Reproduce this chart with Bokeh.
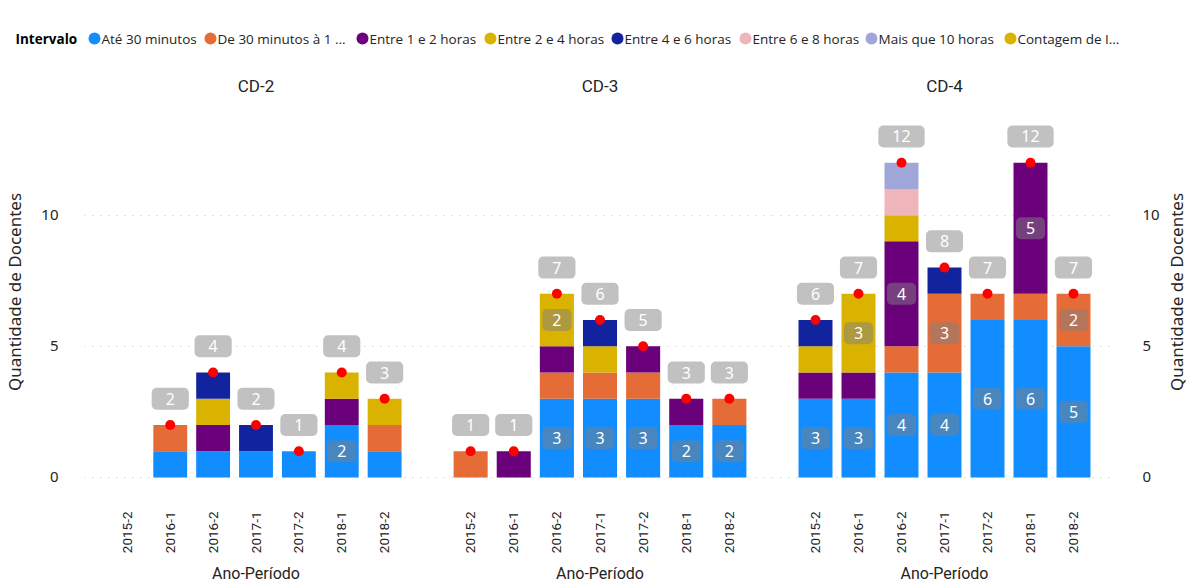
import math
from bokeh.plotting import figure
from bokeh.layouts import column, row
from bokeh.models import (ColumnDataSource, FactorRange, Range1d, FixedTicker, Label)
from bokeh.embed import file_html
from bokeh.resources import INLINE
from bokeh.core.properties import value

# ---------------- data ----------------
periods = ["2015-2", "2016-1", "2016-2", "2017-1", "2017-2", "2018-1", "2018-2"]
panel_names = ["CD-2", "CD-3", "CD-4"]
interval_names = ["Até 30 minutos", "De 30 minutos à 1 ...", "Entre 1 e 2 horas",
                  "Entre 2 e 4 horas", "Entre 4 e 6 horas", "Entre 6 e 8 horas",
                  "Mais que 10 horas"]
count_name = "Contagem de I..."
interval_colors = ["#118DFF", "#E66C37", "#6B007B", "#D9B300", "#12239E", "#EEB6BB", "#A0A7D8"]
count_color = "#D9B300"

# CD-2
cd2_ate30 = [0, 1, 1, 1, 1, 2, 1]
cd2_30a1h = [0, 1, 0, 0, 0, 0, 1]
cd2_1a2h = [0, 0, 1, 0, 0, 1, 0]
cd2_2a4h = [0, 0, 1, 0, 0, 1, 1]
cd2_4a6h = [0, 0, 1, 1, 0, 0, 0]
cd2_6a8h = [0, 0, 0, 0, 0, 0, 0]
cd2_mais10h = [0, 0, 0, 0, 0, 0, 0]
# CD-3
cd3_ate30 = [0, 0, 3, 3, 3, 2, 2]
cd3_30a1h = [1, 0, 1, 1, 1, 0, 1]
cd3_1a2h = [0, 1, 1, 0, 1, 1, 0]
cd3_2a4h = [0, 0, 2, 1, 0, 0, 0]
cd3_4a6h = [0, 0, 0, 1, 0, 0, 0]
cd3_6a8h = [0, 0, 0, 0, 0, 0, 0]
cd3_mais10h = [0, 0, 0, 0, 0, 0, 0]
# CD-4
cd4_ate30 = [3, 3, 4, 4, 6, 6, 5]
cd4_30a1h = [0, 0, 1, 3, 1, 1, 2]
cd4_1a2h = [1, 1, 4, 0, 0, 5, 0]
cd4_2a4h = [1, 3, 1, 0, 0, 0, 0]
cd4_4a6h = [1, 0, 0, 1, 0, 0, 0]
cd4_6a8h = [0, 0, 1, 0, 0, 0, 0]
cd4_mais10h = [0, 0, 1, 0, 0, 0, 0]

panel_series = [
    [cd2_ate30, cd2_30a1h, cd2_1a2h, cd2_2a4h, cd2_4a6h, cd2_6a8h, cd2_mais10h],
    [cd3_ate30, cd3_30a1h, cd3_1a2h, cd3_2a4h, cd3_4a6h, cd3_6a8h, cd3_mais10h],
    [cd4_ate30, cd4_30a1h, cd4_1a2h, cd4_2a4h, cd4_4a6h, cd4_6a8h, cd4_mais10h],
]

y_ticks = [0, 5, 10]
y_title = "Quantidade de Docentes"
x_title = "Ano-Período"

# ---------------- styling / layout ----------------
FRAME_W = 345
LEG_H = 60
PANEL_H = 526
TOP = 45
BOTTOM = 107
Y_START, Y_END = -0.04, 14.18
TXT = "#252423"
LEGEND_SLOT_X = [94, 210, 362, 490, 617, 745, 871, 1010]   # legend entry anchors (px)


def make_panel(name, series, width, border_left, border_right, axis_side):
    data = {"period": periods}
    keys = []
    for i, vals in enumerate(series):
        data[f"s{i}"] = vals
        keys.append(f"s{i}")
    src = ColumnDataSource(data)

    p = figure(x_range=FactorRange(factors=periods, range_padding=0.5,
                                   range_padding_units="absolute"),
               y_range=Range1d(Y_START, Y_END), width=width, height=PANEL_H,
               output_backend="svg", toolbar_location=None,
               y_axis_location=axis_side, min_border_left=border_left,
               min_border_right=border_right, min_border_top=TOP,
               min_border_bottom=BOTTOM, title=name)
    p.title.align = "center"
    p.title.offset = 3
    p.title.standoff = 19
    p.title.text_font = "Roboto"
    p.title.text_font_size = "17px"
    p.title.text_font_style = "normal"
    p.title.text_color = TXT

    p.outline_line_color = None
    p.background_fill_color = "white"
    p.xgrid.visible = False
    p.ygrid.ticker = FixedTicker(ticks=y_ticks)
    p.ygrid.grid_line_color = "#C8C6C4"
    p.ygrid.grid_line_dash = "1 7"
    p.ygrid.grid_line_width = 1

    p.vbar_stack(keys, x="period", width=0.79, color=interval_colors,
                 line_color=None, source=src)

    # segment labels
    sx, sy, st = [], [], []
    for j, per in enumerate(periods):
        base = 0
        for vals in series:
            v = vals[j]
            if v >= 2:
                sx.append(per)
                sy.append(base + v / 2)
                st.append(str(v))
            base += v
    p.text(x="x", y="y", text="t", source=ColumnDataSource(dict(x=sx, y=sy, t=st)),
           text_align="center", text_baseline="middle", text_color="white",
           text_font=value("Noto Sans"), text_font_size="16px",
           background_fill_color="#808080", background_fill_alpha=0.5,
           padding=dict(left=10, right=10, top=5, bottom=5), border_radius=5)

    # totals
    tx, ty, tl, tt = [], [], [], []
    for j, per in enumerate(periods):
        tot = sum(vals[j] for vals in series)
        if tot > 0:
            tx.append(per)
            ty.append(tot)
            tl.append(tot + 1)
            tt.append(str(tot))
    tsrc = ColumnDataSource(dict(x=tx, y=ty, yl=tl, t=tt))
    p.scatter(x="x", y="y", source=tsrc, marker="circle", size=10,
              fill_color="#FF0000", line_color=None)
    p.text(x="x", y="yl", text="t", source=tsrc,
           text_align="center", text_baseline="middle", text_color="white",
           text_font=value("Noto Sans"), text_font_size="16px",
           background_fill_color="#C1C1C1", background_fill_alpha=1.0,
           padding=dict(left=14, right=14, top=5, bottom=5), border_radius=5)

    xa = p.xaxis[0]
    xa.axis_label = x_title
    xa.axis_label_text_font = "Roboto"
    xa.axis_label_text_font_size = "16px"
    xa.axis_label_text_font_style = "normal"
    xa.axis_label_text_color = TXT
    xa.axis_label_standoff = 8
    xa.axis_line_color = None
    xa.major_tick_line_color = None
    xa.minor_tick_line_color = None
    xa.major_label_orientation = math.pi / 2
    xa.major_label_text_font = "Roboto"
    xa.major_label_text_font_size = "13.5px"
    xa.major_label_text_color = TXT
    xa.major_label_standoff = 27

    if axis_side is not None:
        ya = p.yaxis[0]
        ya.ticker = FixedTicker(ticks=y_ticks)
        if axis_side == "left":
            ya.axis_label = y_title
        ya.axis_label_text_font = "Noto Sans"
        ya.axis_label_text_font_size = "17px"
        ya.axis_label_text_font_style = "normal"
        ya.axis_label_text_color = TXT
        ya.axis_label_standoff = 12
        ya.axis_line_color = None
        ya.major_tick_line_color = None
        ya.minor_tick_line_color = None
        ya.major_label_text_font = "Noto Sans"
        ya.major_label_text_font_size = "15px"
        ya.major_label_text_color = TXT
        ya.major_label_standoff = 20
    return p


f1 = make_panel(panel_names[0], panel_series[0], FRAME_W + 82, 82, 0, "left")
f2 = make_panel(panel_names[1], panel_series[1], FRAME_W, 0, 0, None)
f3 = make_panel(panel_names[2], panel_series[2], FRAME_W + 45, 0, 45, "right")

# right-hand axis title (reads bottom-to-top, like the left one)
f4 = figure(width=28, height=PANEL_H, x_range=Range1d(0, 1), y_range=Range1d(0, 1),
            output_backend="svg", toolbar_location=None,
            x_axis_location=None, y_axis_location=None, min_border_left=0,
            min_border_right=0, min_border_top=TOP, min_border_bottom=BOTTOM)
f4.outline_line_color = None
f4.grid.visible = False
f4.add_layout(Label(x=0.5, y=0.5, text=y_title, angle=math.pi / 2,
                    text_align="center", text_baseline="middle",
                    text_font="Noto Sans", text_font_size="17px", text_color=TXT))

# ---------------- legend strip ----------------
LEG_W = 1190
leg = figure(width=LEG_W, height=LEG_H, x_range=Range1d(0, LEG_W), y_range=Range1d(0, LEG_H),
             output_backend="svg", toolbar_location=None,
             x_axis_location=None, y_axis_location=None, min_border=0)
leg.outline_line_color = None
leg.grid.visible = False
leg_names = interval_names + [count_name]
leg_colors = interval_colors + [count_color]
leg_src = ColumnDataSource(dict(
    cx=LEGEND_SLOT_X, tx=[x + 7 for x in LEGEND_SLOT_X], y=[22] * len(leg_names),
    name=leg_names, color=leg_colors))
leg.scatter(x="cx", y="y", source=leg_src, marker="circle", size=12,
            fill_color="color", line_color=None)
leg.text(x="tx", y="y", text="name", source=leg_src, text_baseline="middle",
         text_align="left", text_font=value("Open Sans"), text_font_size="13.5px",
         text_color=TXT)
leg.add_layout(Label(x=15, y=22, text="Intervalo", text_baseline="middle",
                     text_font="Open Sans", text_font_style="bold",
                     text_font_size="13.5px", text_color="#000000"))

layout = column(leg, row(f1, f2, f3, f4))
open("out.html", "w").write(file_html(layout, INLINE))
